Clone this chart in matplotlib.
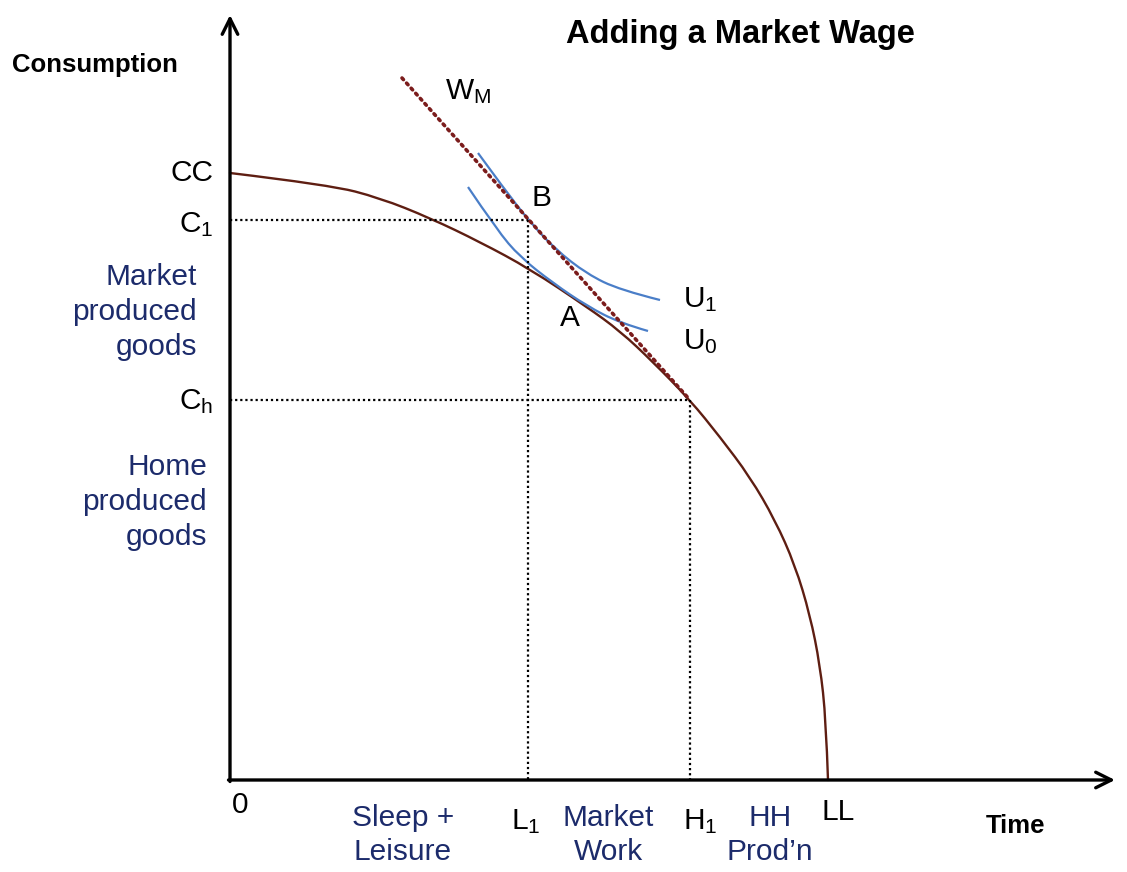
import matplotlib.pyplot as plt
from matplotlib.path import Path
from matplotlib.patches import PathPatch

plt.rcParams['font.family'] = ['Liberation Sans', 'DejaVu Sans']
plt.rcParams['mathtext.fontset'] = 'custom'
plt.rcParams['mathtext.rm'] = 'Liberation Sans'
plt.rcParams['mathtext.it'] = 'Liberation Sans:italic'

# production possibility frontier (time on x, consumption on y)
ppf_x = [0, 100, 150, 200, 250, 300, 357, 390, 423, 460, 490, 520, 545, 565, 580, 590, 596, 598]
ppf_y = [607, 595, 582, 562, 538, 511, 473, 449, 418, 380, 343, 303, 260, 215, 165, 115, 60, 0]

# market wage line
wage_x = [172, 460]
wage_y = [702, 380]

# indifference curves
u1_x = [248, 275, 300, 325, 357, 390, 430]
u1_y = [627, 590, 558, 531, 506, 490, 480]
u0_x = [238, 267, 290, 323, 357, 390, 418]
u0_y = [593, 550, 523, 497, 474, 457, 449]

# reference points
L1, C1 = 298, 560
H1, Ch = 460, 380
CC, LL = 607, 598

navy = '#1c2b6b'
brown = '#5e1e12'
wine = '#7b1c1c'
blue = '#4a7ec8'


def smooth(xs, ys, **kw):
    # quadratic bezier through midpoints of the read points
    pts = list(zip(xs, ys))
    verts = [pts[0]]
    codes = [Path.MOVETO]
    for i in range(1, len(pts) - 2):
        mid = ((pts[i][0] + pts[i + 1][0]) / 2, (pts[i][1] + pts[i + 1][1]) / 2)
        verts += [pts[i], mid]
        codes += [Path.CURVE3, Path.CURVE3]
    verts += [pts[-2], pts[-1]]
    codes += [Path.CURVE3, Path.CURVE3]
    return PathPatch(Path(verts, codes), fill=False, **kw)


fig = plt.figure(figsize=(11.27, 8.72), dpi=100)
ax = fig.add_axes([0, 0, 1, 1])
ax.set_xlim(-230, 897)
ax.set_ylim(-92, 780)
ax.axis('off')

# axes with arrows
ax.annotate('', xy=(0, 765), xytext=(0, -1.5),
            arrowprops=dict(arrowstyle='->', lw=2.4, color='k', mutation_scale=28, shrinkA=0, shrinkB=0))
ax.annotate('', xy=(885, 0), xytext=(-1.5, 0),
            arrowprops=dict(arrowstyle='->', lw=2.4, color='k', mutation_scale=28, shrinkA=0, shrinkB=0))

# guide lines
dots = (0, (1, 1.3))
ax.plot([0, L1], [C1, C1], color='k', lw=1.6, ls=dots)
ax.plot([L1, L1], [C1, 0], color='k', lw=1.6, ls=dots)
ax.plot([0, H1], [Ch, Ch], color='k', lw=1.6, ls=dots)
ax.plot([H1, H1], [Ch, 0], color='k', lw=1.6, ls=dots)

ax.add_patch(smooth(ppf_x, ppf_y, edgecolor=brown, lw=1.7, capstyle='round'))
ax.add_patch(smooth(u1_x, u1_y, edgecolor=blue, lw=1.6))
ax.add_patch(smooth(u0_x, u0_y, edgecolor=blue, lw=1.6))
ax.plot(wage_x, wage_y, color=wine, lw=2.6, ls=(0, (0.6, 1.3)), dash_capstyle='round')

# titles
ax.text(510, 745, 'Adding a Market Wage', fontsize=23.5, fontweight='bold', ha='center', va='center')
ax.text(-218, 715, 'Consumption', fontsize=18.5, fontweight='bold', ha='left', va='center')
ax.text(785, -46, 'Time', fontsize=18.5, fontweight='bold', ha='center', va='center')

fs = 21.5
# y labels
ax.text(-17, CC, 'CC', fontsize=fs, ha='right', va='center')
ax.text(-17, C1 - 5, r'C$_1$', fontsize=fs, ha='right', va='center')
ax.text(-17, Ch - 2, r'C$_\mathrm{h}$', fontsize=fs, ha='right', va='center')
ax.text(-33, 468, 'Market\nproduced\ngoods', fontsize=fs, color=navy, ha='right', va='center',
        multialignment='right', linespacing=1.32)
ax.text(-23, 278, 'Home\nproduced\ngoods', fontsize=fs, color=navy, ha='right', va='center',
        multialignment='right', linespacing=1.32)

# x labels
ax.text(2, -25, '0', fontsize=fs, ha='left', va='center')
ax.text(173, -55, 'Sleep +\nLeisure', fontsize=fs, color=navy, ha='center', va='center', linespacing=1.25)
ax.text(L1 - 2, -42, r'L$_1$', fontsize=fs, ha='center', va='center')
ax.text(378, -55, 'Market\nWork', fontsize=fs, color=navy, ha='center', va='center', linespacing=1.25)
ax.text(H1 + 10, -42, r'H$_1$', fontsize=fs, ha='center', va='center')
ax.text(540, -55, 'HH\nProd\u2019n', fontsize=fs, color=navy, ha='center', va='center', linespacing=1.25)
ax.text(LL + 10, -32, 'LL', fontsize=fs, ha='center', va='center')

# curve labels
ax.text(215, 688, r'W$_\mathrm{M}$', fontsize=fs, ha='left', va='center')
ax.text(302, 582, 'B', fontsize=fs, ha='left', va='center')
ax.text(330, 462, 'A', fontsize=fs, ha='left', va='center')
ax.text(453, 480, r'U$_1$', fontsize=fs, ha='left', va='center')
ax.text(453, 438, r'U$_0$', fontsize=fs, ha='left', va='center')

fig.savefig('out.png', dpi=100)
